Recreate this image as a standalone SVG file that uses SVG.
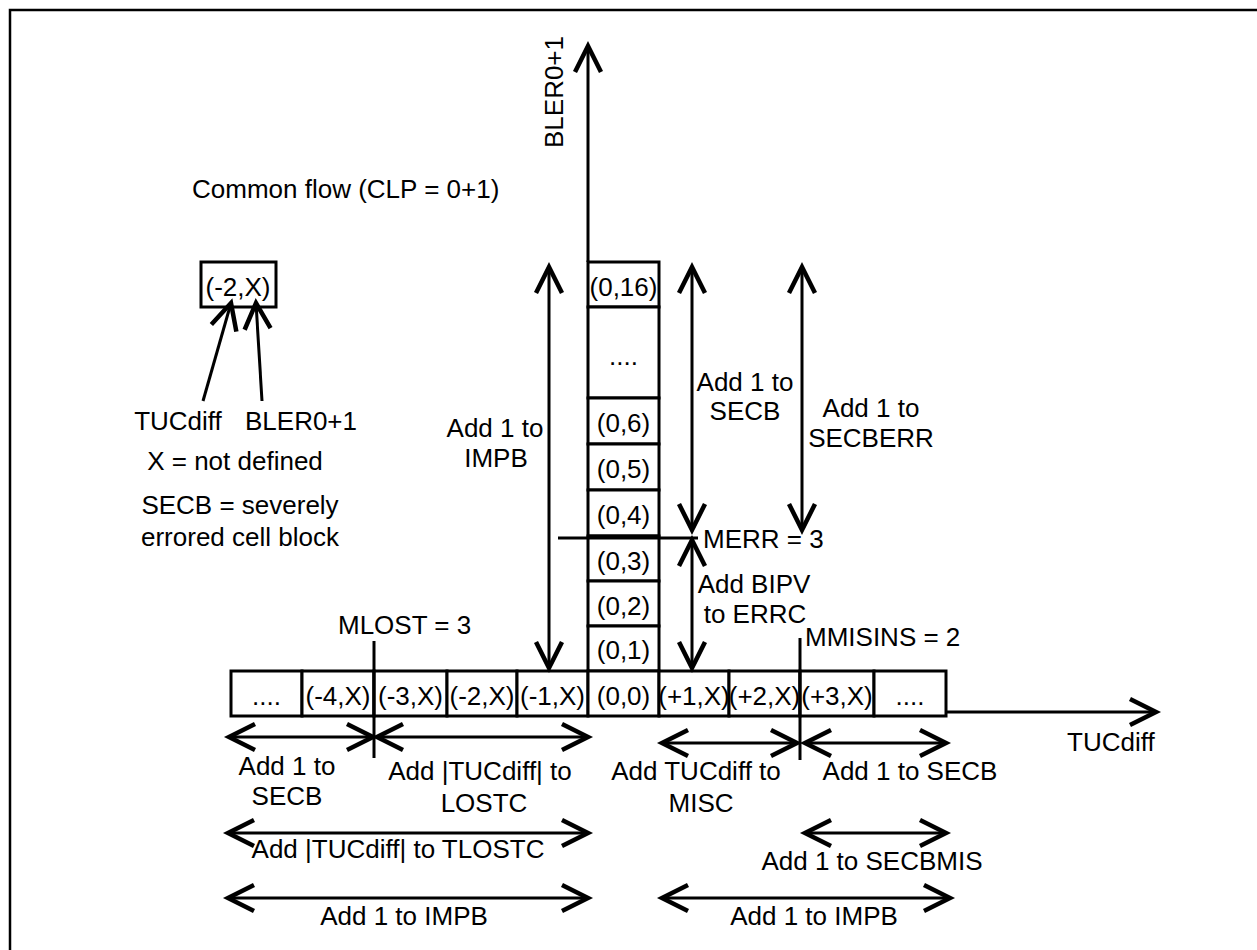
<svg xmlns="http://www.w3.org/2000/svg" width="1257" height="950" viewBox="0 0 1257 950">
<style>
text{font-family:"Liberation Sans",Arial,sans-serif;font-size:26px;fill:#000}
.c{text-anchor:middle}
.cell{fill:#fff;stroke:#000;stroke-width:3}
.ln{fill:none;stroke:#000;stroke-width:3}
.ar{fill:none;stroke:#000;stroke-width:3;marker-end:url(#ah)}
.da{fill:none;stroke:#000;stroke-width:3;marker-start:url(#ah);marker-end:url(#ah)}
</style>
<defs>
<marker id="ah" markerUnits="userSpaceOnUse" viewBox="-30 -16 34 32" refX="0" refY="0" markerWidth="34" markerHeight="32" orient="auto-start-reverse" overflow="visible">
<path d="M-26,-13 L0,0 L-26,13" fill="none" stroke="#000" stroke-width="4.5" stroke-linejoin="miter"/>
</marker>
</defs>
<rect x="10" y="10" width="1300" height="1000" fill="#fff" stroke="#000" stroke-width="2.5"/>

<g id="title"><text x="192" y="198">Common flow (CLP = 0+1)</text></g>

<g id="legend">
<rect class="cell" x="201" y="262" width="75" height="45"/>
<text class="c" x="238" y="296">(-2,X)</text>
<text class="c" x="178" y="430">TUCdiff</text>
<text class="c" x="301" y="430">BLER0+1</text>
<text class="c" x="235" y="470">X = not defined</text>
<text class="c" x="240" y="514">SECB = severely</text>
<text class="c" x="240" y="546">errored cell block</text>
</g>

<g id="column">
<rect class="cell" x="588" y="262" width="71" height="45"/><text class="c" x="623.5" y="296">(0,16)</text>
<rect class="cell" x="588" y="307" width="71" height="91"/><text class="c" x="623.5" y="365">....</text>
<rect class="cell" x="588" y="398" width="71" height="46"/><text class="c" x="623.5" y="432">(0,6)</text>
<rect class="cell" x="588" y="444" width="71" height="46"/><text class="c" x="623.5" y="478">(0,5)</text>
<rect class="cell" x="588" y="490" width="71" height="46"/><text class="c" x="623.5" y="524">(0,4)</text>
<rect class="cell" x="588" y="536" width="71" height="45"/><text class="c" x="623.5" y="570">(0,3)</text>
<rect class="cell" x="588" y="581" width="71" height="45"/><text class="c" x="623.5" y="615">(0,2)</text>
<rect class="cell" x="588" y="626" width="71" height="45"/><text class="c" x="623.5" y="659">(0,1)</text>
</g>

<g id="row">
<rect class="cell" x="231" y="671" width="71" height="45"/><text class="c" x="266.5" y="705">....</text>
<rect class="cell" x="302" y="671" width="72" height="45"/><text class="c" x="338" y="705">(-4,X)</text>
<rect class="cell" x="374" y="671" width="73" height="45"/><text class="c" x="410.5" y="705">(-3,X)</text>
<rect class="cell" x="447" y="671" width="70" height="45"/><text class="c" x="482" y="705">(-2,X)</text>
<rect class="cell" x="517" y="671" width="71" height="45"/><text class="c" x="552.5" y="705">(-1,X)</text>
<rect class="cell" x="588" y="671" width="71" height="45"/><text class="c" x="623.5" y="705">(0,0)</text>
<rect class="cell" x="659" y="671" width="70" height="45"/><text class="c" x="694" y="705">(+1,X)</text>
<rect class="cell" x="729" y="671" width="71" height="45"/><text class="c" x="764.5" y="705">(+2,X)</text>
<rect class="cell" x="800" y="671" width="74" height="45"/><text class="c" x="837" y="705">(+3,X)</text>
<rect class="cell" x="874" y="671" width="72" height="45"/><text class="c" x="910" y="705">....</text>
</g>

<g id="axes">
<path class="ar" d="M588,262 V46"/>
<text transform="translate(563,92) rotate(-90)" class="c">BLER0+1</text>
<path class="ar" d="M946,712 H1156"/>
<text x="1067" y="751">TUCdiff</text>
</g>

<g id="thresholds">
<path class="ln" d="M558,538 H698"/>
<text x="703" y="548">MERR = 3</text>
<path class="ln" d="M374,641 V758"/>
<text x="338" y="634">MLOST = 3</text>
<path class="ln" d="M800,638 V760"/>
<text x="805" y="646">MMISINS = 2</text>
</g>

<g id="connectors">
<path class="ar" d="M203,401 L231,303"/>
<path class="ar" d="M262,401 L256,303"/>
<path class="da" d="M549,267 V668"/>
<path class="da" d="M692,267 V530"/>
<path class="da" d="M802,267 V530"/>
<path class="da" d="M692,540 V668"/>
<path class="da" d="M229,737 H373"/>
<path class="da" d="M377,737 H588"/>
<path class="da" d="M662,743 H797"/>
<path class="da" d="M805,743 H946"/>
<path class="da" d="M228,833 H588"/>
<path class="da" d="M805,833 H946"/>
<path class="da" d="M228,898 H588"/>
<path class="da" d="M662,898 H950"/>
</g>

<g id="labels">
<text class="c" x="495" y="437">Add 1 to</text>
<text class="c" x="496" y="467">IMPB</text>
<text class="c" x="745" y="391">Add 1 to</text>
<text class="c" x="745" y="420">SECB</text>
<text class="c" x="871" y="417">Add 1 to</text>
<text class="c" x="871" y="447">SECBERR</text>
<text class="c" x="754" y="593">Add BIPV</text>
<text class="c" x="755" y="623">to ERRC</text>
<text class="c" x="287" y="775">Add 1 to</text>
<text class="c" x="287" y="805">SECB</text>
<text class="c" x="480" y="780">Add |TUCdiff| to</text>
<text class="c" x="484" y="812">LOSTC</text>
<text class="c" x="696" y="780">Add TUCdiff to</text>
<text class="c" x="701" y="812">MISC</text>
<text class="c" x="910" y="780">Add 1 to SECB</text>
<text class="c" x="398" y="858">Add |TUCdiff| to TLOSTC</text>
<text class="c" x="872" y="870">Add 1 to SECBMIS</text>
<text class="c" x="404" y="925">Add 1 to IMPB</text>
<text class="c" x="814" y="925">Add 1 to IMPB</text>
</g>
</svg>
